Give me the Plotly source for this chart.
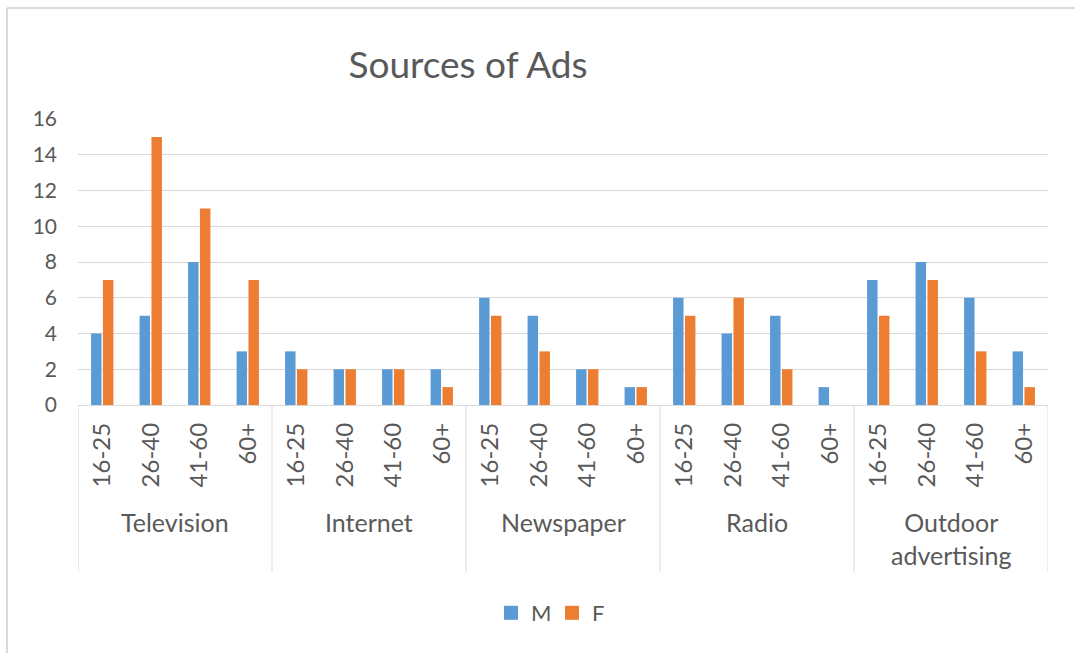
import plotly.graph_objects as go

# Survey counts: where respondents see ads, by source, age band and sex
sources = ["Television", "Internet", "Newspaper", "Radio", "Outdoor<br>advertising"]
age_bands = ["16-25", "26-40", "41-60", "60+"]
male = [4, 5, 8, 3,   3, 2, 2, 2,   6, 5, 2, 1,   6, 4, 5, 1,   7, 8, 6, 3]
female = [7, 15, 11, 7,   2, 2, 2, 1,   5, 3, 2, 1,   5, 6, 2, 0,   5, 7, 3, 1]
y_ticks = [0, 2, 4, 6, 8, 10, 12, 14, 16]

W, H = 1075, 653
L, R, T, B = 78, 27, 119, 248
plot_w = W - L - R
plot_h = H - T - B

TEXT = "#595959"
GRID = "#d9d9d9"
FONT = "Lato"
BLUE = "#5B9BD5"
ORANGE = "#ED7D31"

n_age = len(age_bands)
xpos = list(range(len(sources) * n_age))
tick_text = [a for _ in sources for a in age_bands]


def px_to_paper_x(px):
    return (px - L) / plot_w


def px_to_paper_y(py):
    return (H - B - py) / plot_h


fig = go.Figure()
fig.add_trace(go.Bar(x=xpos, y=male, name="M", marker_color=BLUE,
                     marker_line_width=0, showlegend=False))
fig.add_trace(go.Bar(x=xpos, y=female, name="F", marker_color=ORANGE,
                     marker_line_width=0, showlegend=False))
# legend keys drawn as plain square swatches
for nm, col in (("M", BLUE), ("F", ORANGE)):
    fig.add_trace(go.Scatter(x=[None], y=[None], mode="markers", name=nm,
                             marker=dict(symbol="square", size=14, color=col)))

shapes = []
# group dividers on the category axis
for g in range(len(sources) + 1):
    xv = g * n_age - 0.5
    shapes.append(dict(type="line", xref="x", yref="paper",
                       x0=xv, x1=xv, y0=0, y1=px_to_paper_y(572),
                       line=dict(color=GRID, width=1)))
# outer chart frame (top and left edges)
shapes.append(dict(type="line", xref="paper", yref="paper",
                   x0=px_to_paper_x(7), x1=px_to_paper_x(W + 5),
                   y0=px_to_paper_y(8), y1=px_to_paper_y(8),
                   line=dict(color=GRID, width=2)))
shapes.append(dict(type="line", xref="paper", yref="paper",
                   x0=px_to_paper_x(7), x1=px_to_paper_x(7),
                   y0=px_to_paper_y(8), y1=px_to_paper_y(H + 5),
                   line=dict(color=GRID, width=2)))

annotations = []
for g, name in enumerate(sources):
    two_lines = "<br>" in name
    annotations.append(dict(
        x=g * n_age + (n_age - 1) / 2, xref="x",
        y=px_to_paper_y(538.5 if two_lines else 522), yref="paper",
        text=name, showarrow=False, yanchor="middle", xanchor="center",
        font=dict(family=FONT, size=25, color=TEXT)))

fig.update_layout(
    width=W, height=H,
    margin=dict(l=L, r=R, t=T, b=B, autoexpand=False),
    paper_bgcolor="white", plot_bgcolor="white",
    barmode="group", bargap=0.51, bargroupgap=0.12,
    title=dict(text="Sources of Ads", x=468 / W, xref="container",
               xanchor="center", y=1 - 65 / H, yref="container",
               yanchor="middle",
               font=dict(family=FONT, size=37, color=TEXT)),
    xaxis=dict(range=[-0.5, len(xpos) - 0.5], tickmode="array",
               tickvals=xpos, ticktext=tick_text, tickangle=-90,
               showgrid=False, zeroline=False, showline=False,
               ticks="", ticklabelstandoff=12,
               tickfont=dict(family=FONT, size=24, color=TEXT)),
    yaxis=dict(range=[0, 16], tickmode="array", tickvals=y_ticks,
               showgrid=True, gridcolor=GRID, gridwidth=1,
               zeroline=True, zerolinecolor=GRID, zerolinewidth=1,
               showline=False, ticks="", ticklabelstandoff=20,
               tickfont=dict(family=FONT, size=21, color=TEXT)),
    legend=dict(orientation="h", x=px_to_paper_x(491), xanchor="left",
                y=px_to_paper_y(613), yanchor="middle",
                font=dict(family=FONT, size=22, color=TEXT),
                itemwidth=30, entrywidth=16, bgcolor="rgba(0,0,0,0)"),
    shapes=shapes, annotations=annotations,
    showlegend=True,
)

fig.write_html("out.html")
